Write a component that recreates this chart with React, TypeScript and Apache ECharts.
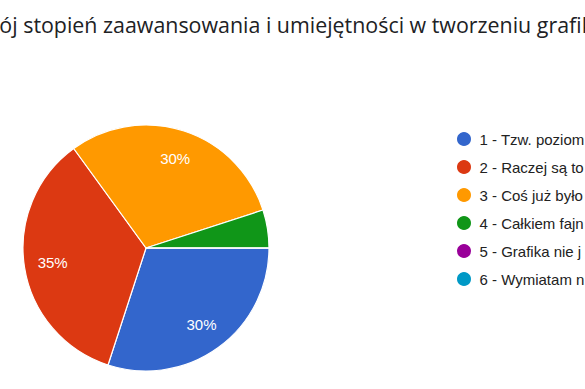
import React, { useEffect, useRef } from "react";
import * as echarts from "echarts";

const titleText = "Twój stopień zaawansowania i umiejętności w tworzeniu grafiki";
const categories = [
  "1 - Tzw. poziom",
  "2 - Raczej są to",
  "3 - Coś już było",
  "4 - Całkiem fajn",
  "5 - Grafika nie j",
  "6 - Wymiatam n",
];
const values = [6, 7, 6, 1, 0, 0];
const colors = ["#3366cc", "#dc3912", "#ff9900", "#109618", "#990099", "#0099c6"];

export default function App() {
  const ref = useRef<HTMLDivElement>(null);
  useEffect(() => {
    if (!ref.current) return;
    const chart = echarts.init(ref.current, undefined, { renderer: "svg" });
    const data = categories.map((name, i) => ({ name, value: values[i], itemStyle: { color: colors[i] } }));
    chart.setOption({
      animation: false,
      backgroundColor: "#ffffff",
      title: {
        text: titleText,
        left: -29,
        top: 14,
        padding: 0,
        textStyle: { fontFamily: "Open Sans", fontSize: 21.4, fontWeight: "normal", color: "#202124" },
      },
      legend: {
        orient: "vertical",
        left: 450,
        top: 125,
        icon: "circle",
        itemWidth: 21,
        itemHeight: 16,
        itemGap: 10,
        selectedMode: false,
        data: categories.map((name, i) => ({ name, itemStyle: { color: colors[i] } })),
        textStyle: { fontFamily: "Liberation Sans, Arial", fontSize: 15, color: "#222222" },
      },
      series: [
        {
          type: "pie",
          center: [146, 248],
          radius: [0, 123],
          startAngle: 0,
          clockwise: true,
          silent: true,
          label: { show: false },
          labelLine: { show: false },
          itemStyle: { borderColor: "#ffffff", borderWidth: 1.2 },
          data,
        },
        {
          type: "pie",
          center: [146, 248],
          radius: [60, 123],
          startAngle: 0,
          clockwise: true,
          silent: true,
          labelLine: { show: false },
          itemStyle: { color: "rgba(0,0,0,0)", borderWidth: 0 },
          label: {
            show: true,
            position: "inside",
            color: "#ffffff",
            fontFamily: "Liberation Sans, Arial",
            fontSize: 15,
            formatter: (p: any) => (p.percent >= 10 ? `${Math.round(p.percent)}%` : ""),
          },
          data: categories.map((name, i) => ({ name, value: values[i] })),
        },
      ],
    });
    return () => chart.dispose();
  }, []);
  return <div ref={ref} style={{ width: 585, height: 389, position: "absolute", left: 0, top: 0 }} />;
}
